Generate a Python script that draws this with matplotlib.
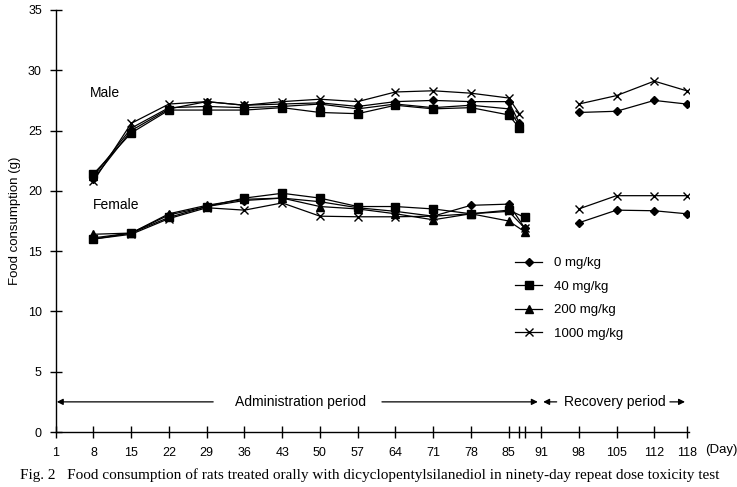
import matplotlib
matplotlib.use("Agg")
import matplotlib.pyplot as plt

# ---- data ----
days_male = [8, 15, 22, 29, 36, 43, 50, 57, 64, 71, 78, 85, 87]
days_female = [8, 15, 22, 29, 36, 43, 50, 57, 64, 71, 78, 85, 88]
rec_days = [98, 105, 112, 118]

male_0 = [21.0, 25.0, 26.8, 27.4, 27.1, 27.2, 27.3, 27.0, 27.4, 27.5, 27.4, 27.4, 25.6]
male_40 = [21.4, 24.8, 26.7, 26.7, 26.7, 26.9, 26.5, 26.4, 27.1, 26.8, 26.9, 26.3, 25.2]
male_200 = [21.2, 25.2, 26.9, 27.0, 26.9, 27.0, 27.2, 26.8, 27.2, 26.9, 27.1, 26.8, 25.4]
male_1000 = [20.8, 25.6, 27.2, 27.4, 27.1, 27.4, 27.6, 27.4, 28.2, 28.3, 28.1, 27.7, 26.4]
male_rec_0 = [26.5, 26.6, 27.5, 27.2]
male_rec_1000 = [27.2, 27.9, 29.1, 28.3]

female_0 = [16.1, 16.5, 18.0, 18.7, 19.2, 19.4, 19.1, 18.6, 18.3, 17.9, 18.8, 18.9, 16.9]
female_40 = [16.0, 16.5, 17.8, 18.7, 19.4, 19.8, 19.4, 18.7, 18.7, 18.5, 18.1, 18.4, 17.8]
female_200 = [16.4, 16.5, 18.1, 18.8, 19.3, 19.4, 18.7, 18.5, 18.1, 17.6, 18.1, 17.5, 16.6]
female_1000 = [16.0, 16.4, 17.7, 18.6, 18.4, 19.0, 17.9, 17.85, 17.85, 17.9, 18.1, 18.3, 16.9]
female_rec_0 = [17.35, 18.4, 18.35, 18.1]
female_rec_1000 = [18.5, 19.6, 19.6, 19.6]

groups = ["0 mg/kg", "40 mg/kg", "200 mg/kg", "1000 mg/kg"]
xticks = [1, 8, 15, 22, 29, 36, 43, 50, 57, 64, 71, 78, 85, 87, 88, 91, 98, 105, 112, 118]
xticklabels = ["1", "8", "15", "22", "29", "36", "43", "50", "57", "64", "71", "78", "85",
               "", "", "91", "98", "105", "112", "118"]
yticks = [0, 5, 10, 15, 20, 25, 30, 35]

plt.rcParams['font.family'] = ['Liberation Sans', 'DejaVu Sans']

fig = plt.figure(figsize=(7.37, 4.87), dpi=100)
ax = fig.add_axes([0.0756, 0.1129, 0.8597, 0.8666])

styles = [dict(marker='D', ms=4.4), dict(marker='s', ms=5.2),
          dict(marker='^', ms=5.8), dict(marker='x', ms=6, mew=1)]
common = dict(color='black', lw=0.9, mfc='black', mec='black')

male = [male_0, male_40, male_200, male_1000]
female = [female_0, female_40, female_200, female_1000]
for i in range(4):
    ax.plot(days_male, male[i], label=groups[i], **styles[i], **common)
    ax.plot(days_female, female[i], **styles[i], **common)

ax.plot(rec_days, male_rec_0, **styles[0], **common)
ax.plot(rec_days, male_rec_1000, **styles[3], **common)
ax.plot(rec_days, female_rec_0, **styles[0], **common)
ax.plot(rec_days, female_rec_1000, **styles[3], **common)

ax.set_xlim(1, 118.5)
ax.set_ylim(0, 35)
ax.set_xticks(xticks)
ax.set_xticklabels(xticklabels)
ax.set_yticks(yticks)
ax.tick_params(direction='inout', length=8, width=1, labelsize=9, pad=6)
ax.tick_params(axis='x', pad=7)
for s in ['top', 'right']:
    ax.spines[s].set_visible(False)
for s in ['left', 'bottom']:
    ax.spines[s].set_linewidth(1)
ax.set_ylabel("Food consumption (g)", fontsize=9.5, labelpad=5)

ax.text(7.3, 28.1, "Male", fontsize=10, va='center', ha='left')
ax.text(7.8, 18.8, "Female", fontsize=10, va='center', ha='left')

# period arrows
ya = 2.5
ap = dict(arrowstyle='-|>', color='black', lw=0.9, mutation_scale=9, shrinkA=0, shrinkB=0)
ax.annotate("", xy=(1.2, ya), xytext=(30.2, ya), arrowprops=ap)
ax.text(46.4, ya, "Administration period", ha='center', va='center', fontsize=10)
ax.annotate("", xy=(90.4, ya), xytext=(61.5, ya), arrowprops=ap)
ax.annotate("", xy=(91.4, ya), xytext=(93.9, ya), arrowprops=ap)
ax.text(104.7, ya, "Recovery period", ha='center', va='center', fontsize=10)
ax.annotate("", xy=(117.7, ya), xytext=(114.9, ya), arrowprops=ap)

ax.legend(loc='upper left', bbox_to_anchor=(0.715, 0.43), frameon=False,
          fontsize=9.5, handlelength=2.0, labelspacing=0.85, borderpad=0,
          handletextpad=0.9)

fig.text(0.957, 0.075, "(Day)", fontsize=9.5, ha='left', va='center')
fig.text(0.502, 0.024, "Fig. 2   Food consumption of rats treated orally with dicyclopentylsilanediol in ninety-day repeat dose toxicity test",
         ha='center', va='center', fontsize=11, family=['Liberation Serif', 'DejaVu Serif'])

fig.savefig("out.png", dpi=100)
